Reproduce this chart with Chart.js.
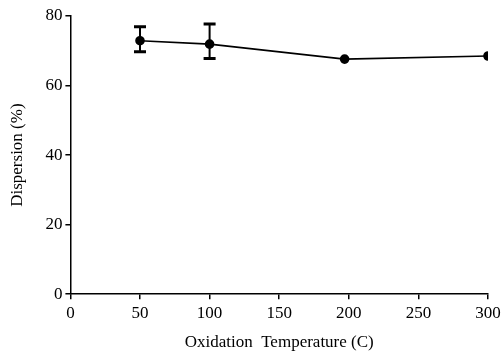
<!DOCTYPE html>
<html>
<head>
<meta charset="utf-8">
<script src="https://cdn.jsdelivr.net/npm/chart.js@4/dist/chart.umd.min.js"></script>
<style>
html,body{margin:0;padding:0;background:#fff;}
#wrap{width:502px;height:353px;position:relative;}
</style>
</head>
<body>
<div id="wrap"><canvas id="c" width="502" height="353"></canvas></div>
<script>
const temperatures = [50, 100, 197, 300];
const dispersion = [72.9, 71.9, 67.6, 68.5];
const errLow = [69.7, 67.8, null, null];
const errHigh = [76.9, 77.7, null, null];
const xTicks = [0, 50, 100, 150, 200, 250, 300];
const yTicks = [0, 20, 40, 60, 80];

const FONT = "'Liberation Serif', 'DejaVu Serif', serif";

const errorBars = {
  id: 'errorBars',
  afterDatasetsDraw(chart) {
    const ctx = chart.ctx;
    const xs = chart.scales.x, ys = chart.scales.y;
    ctx.save();
    ctx.strokeStyle = '#000';
    for (let i = 0; i < temperatures.length; i++) {
      if (errLow[i] == null) continue;
      const px = xs.getPixelForValue(temperatures[i]);
      const pl = ys.getPixelForValue(errLow[i]);
      const ph = ys.getPixelForValue(errHigh[i]);
      ctx.lineWidth = 2;
      ctx.beginPath();
      ctx.moveTo(px, pl); ctx.lineTo(px, ph);
      ctx.stroke();
      ctx.lineWidth = 3;
      ctx.beginPath();
      ctx.moveTo(px - 6, pl); ctx.lineTo(px + 6, pl);
      ctx.moveTo(px - 6, ph); ctx.lineTo(px + 6, ph);
      ctx.stroke();
    }
    ctx.restore();
  }
};

new Chart(document.getElementById('c'), {
  type: 'line',
  data: {
    datasets: [{
      data: temperatures.map((t, i) => ({x: t, y: dispersion[i]})),
      borderColor: '#000',
      backgroundColor: '#000',
      borderWidth: 1.6,
      pointRadius: 4,
      pointBackgroundColor: '#000',
      pointBorderColor: '#000',
      tension: 0
    }]
  },
  options: {
    responsive: false,
    animation: false,
    devicePixelRatio: 1,
    layout: { padding: { top: 16, right: 0, left: 7, bottom: 0 } },
    plugins: { legend: { display: false }, tooltip: { enabled: false } },
    scales: {
      x: {
        type: 'linear',
        min: 0, max: 300,
        afterBuildTicks(s) { s.ticks = xTicks.map(v => ({value: v})); },
        afterFit(s) { s.paddingRight = 14; },
        grid: { display: true, drawOnChartArea: false, drawTicks: true, tickLength: 5, color: '#000', lineWidth: 1.5 },
        border: { display: true, color: '#000', width: 1.5 },
        ticks: { color: '#000', font: { family: FONT, size: 17 }, padding: 4, maxRotation: 0 },
        title: { display: true, text: 'Oxidation  Temperature (C)', color: '#000', font: { family: FONT, size: 17 }, padding: { top: 5, bottom: 0 } }
      },
      y: {
        min: 0, max: 80,
        afterBuildTicks(s) { s.ticks = yTicks.map(v => ({value: v})); },
        grid: { display: true, drawOnChartArea: false, drawTicks: true, tickLength: 5, color: '#000', lineWidth: 1.5 },
        border: { display: true, color: '#000', width: 1.5 },
        ticks: { color: '#000', font: { family: FONT, size: 17 }, padding: 3 },
        title: { display: true, text: 'Dispersion (%)', color: '#000', font: { family: FONT, size: 17 }, padding: { top: 0, bottom: 15 } }
      }
    }
  },
  plugins: [errorBars]
});
</script>
</body>
</html>
